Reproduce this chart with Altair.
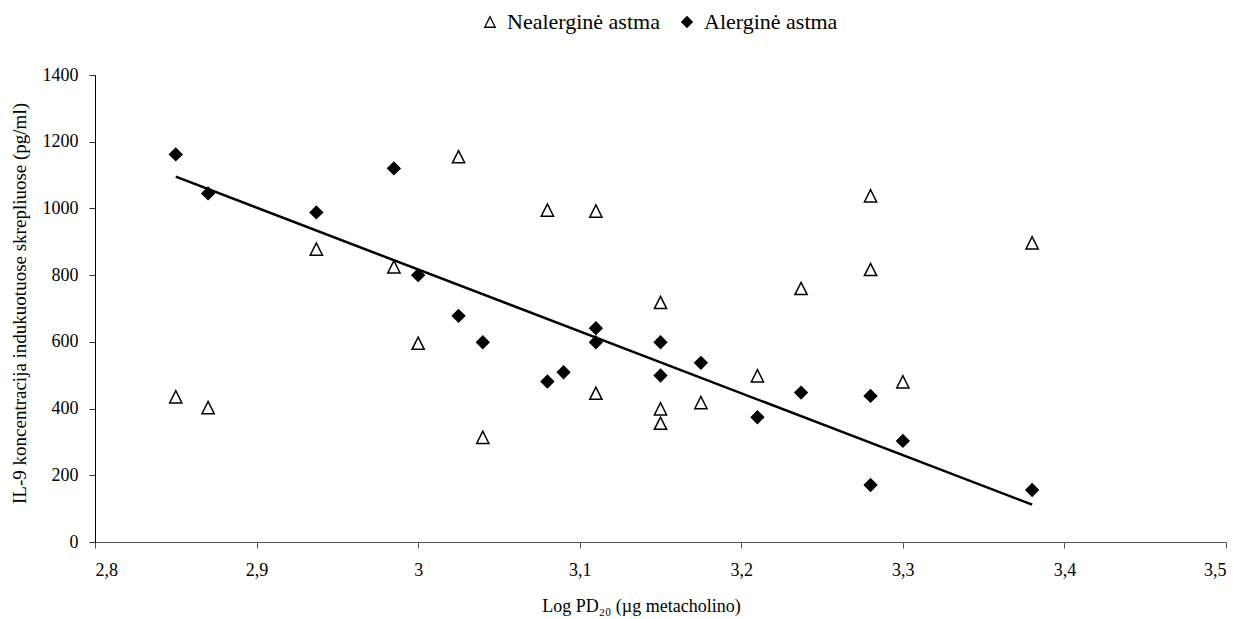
import altair as alt
import pandas as pd

# Nealerginė astma (open triangles)
neal_x = [2.85, 2.87, 2.937, 2.985, 3.0, 3.025, 3.04, 3.08, 3.11, 3.11,
          3.15, 3.15, 3.15, 3.175, 3.21, 3.237, 3.28, 3.28, 3.30, 3.38]
neal_y = [435, 403, 878, 825, 596, 1155, 314, 995, 992, 446,
          718, 399, 356, 418, 498, 760, 1038, 817, 480, 897]

# Alerginė astma (filled diamonds)
aler_x = [2.85, 2.87, 2.937, 2.985, 3.0, 3.025, 3.04, 3.08, 3.09, 3.11,
          3.11, 3.15, 3.15, 3.175, 3.21, 3.237, 3.28, 3.28, 3.30, 3.38]
aler_y = [1162, 1045, 988, 1120, 800, 678, 599, 481, 509, 641,
          599, 599, 499, 537, 374, 448, 438, 171, 303, 156]

groups = ["Nealerginė astma", "Alerginė astma"]
x_ticks = [2.8, 2.9, 3.0, 3.1, 3.2, 3.3, 3.4, 3.5]
y_ticks = [0, 200, 400, 600, 800, 1000, 1200, 1400]

df = pd.DataFrame({
    "x": neal_x + aler_x,
    "y": neal_y + aler_y,
    "group": [groups[0]] * len(neal_x) + [groups[1]] * len(aler_x),
})

FONT = "Liberation Serif"
tri = "M-1,1L1,1L0,-1Z"

x_enc = alt.X("x:Q", scale=alt.Scale(domain=[2.8, 3.5], nice=False, zero=False),
              axis=alt.Axis(values=x_ticks, format="~g",
                            labelExpr="replace(datum.label, '.', ',')",
                            title="Log PD₂₀ (µg metacholino)",
                            labelFont=FONT, titleFont=FONT, labelFontSize=18, titleFontSize=18,
                            titleX=546,
                            grid=False, tickSize=6, labelPadding=13,
                            titlePadding=18, domainColor="#555555", tickColor="#555555"))
y_enc = alt.Y("y:Q", scale=alt.Scale(domain=[0, 1400], nice=False),
              axis=alt.Axis(values=y_ticks, format="d",
                            title="IL-9 koncentracija indukuotuose skrepliuose (pg/ml)",
                            labelFont=FONT, titleFont=FONT, labelFontSize=18, titleFontSize=19,
                            titleY=228,
                            grid=False, tickSize=6, labelPadding=11, titlePadding=13,
                            domainColor="black", tickColor="#333333"))

leg = alt.Legend(orient="none", legendX=384, legendY=-64, direction="horizontal",
                 title=None, symbolSize=110, symbolStrokeWidth=1.3, labelFontSize=22,
                 labelFont=FONT, columnPadding=16, labelOffset=6)

points = alt.Chart(df).mark_point(filled=True, opacity=1,
                                  strokeWidth=1.5, size=150).encode(
    x=x_enc,
    y=y_enc,
    shape=alt.Shape("group:N", scale=alt.Scale(domain=groups, range=[tri, "diamond"]),
                    legend=leg, title=None),
    fill=alt.Fill("group:N", scale=alt.Scale(domain=groups, range=["white", "black"]),
                  legend=leg, title=None),
    stroke=alt.Stroke("group:N", scale=alt.Scale(domain=groups, range=["black", "black"]),
                      legend=leg, title=None),
)

trend = alt.Chart(df).transform_filter(
    alt.datum.group == groups[1]
).transform_regression("x", "y").mark_line(color="black", strokeWidth=2.5).encode(
    x="x:Q", y="y:Q"
)

chart = alt.layer(trend, points).properties(
    width=1131, height=467,
    autosize=alt.AutoSizeParams(type="none"),
    padding={"left": 95, "top": 75, "right": 15, "bottom": 77},
).configure(font=FONT).configure_axis(
    labelFont=FONT, titleFont=FONT,
    labelColor="black", titleColor="black", titleFontWeight="normal",
).configure_view(stroke=None)

chart.save("out.html", embed_options={"renderer": "svg", "actions": False})
